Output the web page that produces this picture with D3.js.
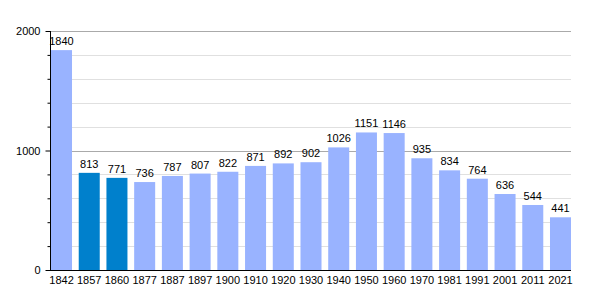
<!DOCTYPE html>
<html><head><meta charset="utf-8">
<script src="https://cdn.jsdelivr.net/npm/d3@7/dist/d3.min.js"></script>
<style>body{margin:0;background:#fff}svg{display:block}text{font-family:"Liberation Sans",Arial,sans-serif;font-size:11px;fill:#000}</style>
</head><body>
<svg id="c" width="600" height="300"></svg>
<script>
const years = ["1842","1857","1860","1877","1887","1897","1900","1910","1920","1930","1940","1950","1960","1970","1981","1991","2001","2011","2021"];
const population = [1840,813,771,736,787,807,822,871,892,902,1026,1151,1146,935,834,764,636,544,441];
const highlighted = ["1857","1860"];
const majorTicks = [0,1000,2000];
const minorTicks = [200,400,600,800,1200,1400,1600,1800];

const svg = d3.select("#c");
const L=50, R=571, T=31, B=270;
const x = d3.scaleBand().domain(years).range([L+1,R]).paddingInner(0.242).paddingOuter(0);
const y = d3.scaleLinear().domain([0,2000]).range([B,T]);

svg.selectAll("line.minor").data(minorTicks).join("line")
  .attr("x1",L).attr("x2",R).attr("y1",d=>Math.round(y(d))+0.5).attr("y2",d=>Math.round(y(d))+0.5)
  .attr("stroke","#e0e0e0");
svg.selectAll("line.major").data(majorTicks.filter(d=>d>0)).join("line")
  .attr("x1",L).attr("x2",R).attr("y1",d=>Math.round(y(d))+0.5).attr("y2",d=>Math.round(y(d))+0.5)
  .attr("stroke","#aaaaaa");

svg.selectAll("rect.bar").data(years).join("rect")
  .attr("x",d=>x(d)).attr("width",x.bandwidth())
  .attr("y",(d,i)=>y(population[i])).attr("height",(d,i)=>B-y(population[i]))
  .attr("fill",d=>highlighted.includes(d)?"#0080cc":"#99b3ff");

svg.selectAll("text.val").data(years).join("text")
  .attr("x",d=>x(d)+x.bandwidth()/2).attr("y",(d,i)=>y(population[i])-5)
  .attr("text-anchor","middle").text((d,i)=>population[i]);

// y axis
const ya = svg.append("g").attr("transform",`translate(${L+0.5},0)`)
  .call(d3.axisLeft(y).tickValues(majorTicks).tickSize(5).tickFormat(d3.format("d")));
ya.select(".domain").remove();
ya.selectAll("text").style("font-size","11px").attr("x",-10).attr("dy","0.32em");
svg.append("g").attr("transform",`translate(${L+0.5},0)`)
  .call(d3.axisLeft(y).tickValues(minorTicks).tickSize(3).tickFormat(""))
  .select(".domain").remove();
svg.append("line").attr("x1",L+0.5).attr("x2",L+0.5).attr("y1",T).attr("y2",B+1).attr("stroke","#000");

// x axis
const xa = svg.append("g").attr("transform",`translate(0,${B+0.5})`)
  .call(d3.axisBottom(x).tickSize(0).tickPadding(6));
xa.select(".domain").attr("d",`M${L},0H${R}`).attr("stroke","#000");
xa.selectAll("text").style("font-size","11px");
</script>
</body></html>
